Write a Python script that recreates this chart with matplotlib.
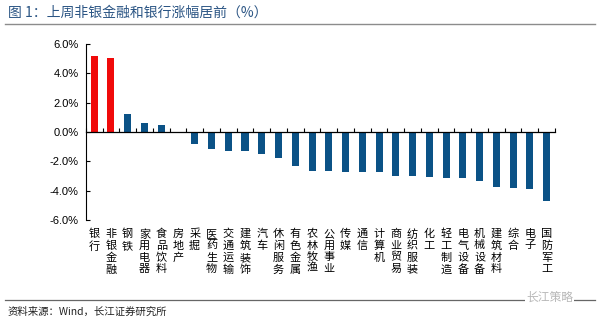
import numpy as np
import matplotlib
matplotlib.use('Agg')
import matplotlib.pyplot as plt
from matplotlib.ticker import FuncFormatter, MultipleLocator

plt.rcParams['font.family'] = ['Liberation Sans', 'Noto Sans CJK SC', 'DejaVu Sans']

# sectors and weekly change (%)
sectors = ['银行', '非银金融', '钢铁', '家用电器', '食品饮料', '房地产', '采掘',
           '医药生物', '交通运输', '建筑装饰', '汽车', '休闲服务', '有色金属', '农林牧渔',
           '公用事业', '传媒', '通信', '计算机', '商业贸易', '纺织服装', '化工',
           '轻工制造', '电气设备', '机械设备', '建筑材料', '综合', '电子', '国防军工']
change = [5.17, 5.06, 1.22, 0.64, 0.48, -0.10, -0.80,
          -1.14, -1.27, -1.27, -1.47, -1.77, -2.33, -2.65,
          -2.65, -2.70, -2.76, -2.76, -3.01, -3.01, -3.08,
          -3.15, -3.15, -3.31, -3.78, -3.80, -3.90, -4.71]
highlight = ['银行', '非银金融']

title = '图 1：上周非银金融和银行涨幅居前（%）'
source = '资料来源：Wind，长江证券研究所'

red = '#F00A0A'
blue = '#0B5286'
cjk = ['Noto Sans CJK SC', 'DejaVu Sans']

fig = plt.figure(figsize=(6, 3.25), dpi=100)
ax = fig.add_axes([0.143, 0.323, 0.782, 0.542])

x = np.arange(len(sectors))
colors = [red if s in highlight else blue for s in sectors]
ax.bar(x, change, width=0.42, color=colors, zorder=2)

ax.set_xlim(-0.5, len(sectors) - 0.5)
ax.set_ylim(-6, 6)
ax.yaxis.set_major_locator(MultipleLocator(2))
ax.yaxis.set_major_formatter(FuncFormatter(lambda v, p: f'{v:.1f}%'))
ax.tick_params(axis='y', direction='in', length=3, width=0.8, labelsize=8, pad=5,
               colors='black')

for sp in ['top', 'right']:
    ax.spines[sp].set_visible(False)
ax.spines['left'].set_linewidth(0.8)
ax.spines['bottom'].set_position(('data', 0))
ax.spines['bottom'].set_linewidth(0.9)

ax.set_xticks(np.arange(-0.5, len(sectors), 1.0))
ax.tick_params(axis='x', direction='in', length=3, width=0.8, labelbottom=False)

# vertical stacked category labels under the plot
trans = ax.get_xaxis_transform()
for i, s in enumerate(sectors):
    ax.text(i, -0.05, '\n'.join(s), transform=trans, ha='center', va='top',
            fontsize=8, linespacing=1.2, family=cjk)

# header and footer
fig.text(0.013, 0.962, title, fontsize=10, color='#2B5584', va='center', family=cjk)
fig.add_artist(plt.Line2D([0.008, 0.992], [0.925, 0.925], color='#8C8C8C', lw=1.0,
                          transform=fig.transFigure))
fig.add_artist(plt.Line2D([0.008, 0.992], [0.077, 0.077], color='#666666', lw=0.9,
                          transform=fig.transFigure))
fig.text(0.013, 0.04, source, fontsize=7.5, color='#222222', va='center', family=cjk)
fig.text(0.955, 0.085, '长江策略', fontsize=8.5, color='#B8B8B8', ha='right', va='center',
         family=cjk, bbox=dict(facecolor='white', edgecolor='none', pad=1))

fig.savefig('out.png', dpi=100)
